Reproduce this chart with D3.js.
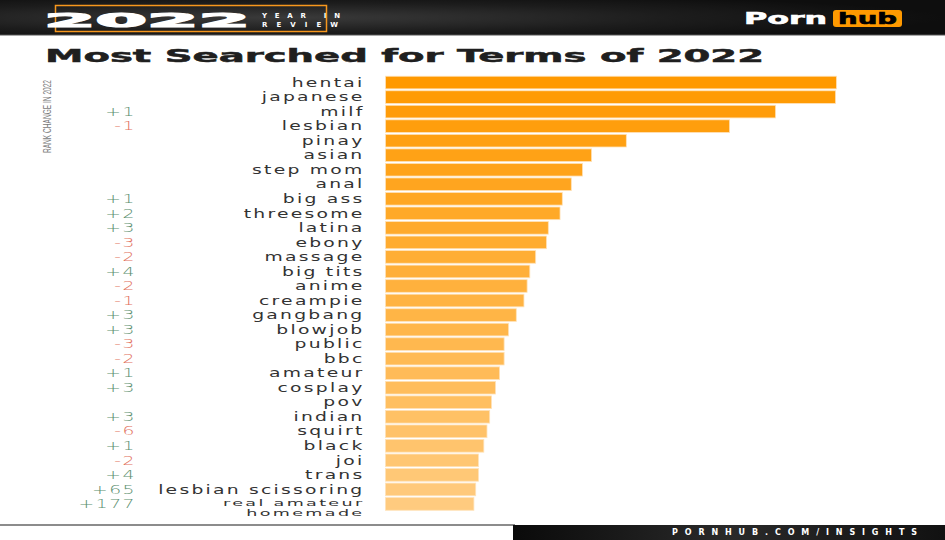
<!DOCTYPE html>
<html>
<head>
<meta charset="utf-8">
<script src="https://cdn.jsdelivr.net/npm/d3@7"></script>
<style>
  html, body { margin: 0; padding: 0; background: #fff; }
  svg { display: block; }
</style>
</head>
<body>
<script>
// ---- data ----
const terms = ["hentai","japanese","milf","lesbian","pinay","asian","step mom","anal","big ass","threesome",
  "latina","ebony","massage","big tits","anime","creampie","gangbang","blowjob","public","bbc",
  "amateur","cosplay","pov","indian","squirt","black","joi","trans","lesbian scissoring","real amateur\nhomemade"];
const popularity = [100, 99.8, 86.5, 76.3, 53.4, 45.7, 43.7, 41.2, 39.2, 38.7,
  36.1, 35.7, 33.3, 32.0, 31.4, 30.7, 29.0, 27.3, 26.3, 26.3,
  25.3, 24.4, 23.5, 23.1, 22.5, 21.8, 20.6, 20.6, 20.0, 19.6];
const rankChange = [null, null, 1, -1, null, null, null, null, 1, 2,
  3, -3, -2, 4, -2, -1, 3, 3, -3, -2,
  1, 3, null, 3, -6, 1, -2, 4, 65, 177];

const W = 945, H = 540;
const svg = d3.select("body").append("svg").attr("width", W).attr("height", H);
const defs = svg.append("defs");

// ---- header band ----
const hg = defs.append("radialGradient").attr("id","hdr").attr("cx","30%").attr("cy","50%").attr("r","70%");
hg.append("stop").attr("offset","0%").attr("stop-color","#3a3a3a");
hg.append("stop").attr("offset","60%").attr("stop-color","#1c1c1c");
hg.append("stop").attr("offset","100%").attr("stop-color","#0e0e0e");
svg.append("rect").attr("x",0).attr("y",0).attr("width",W).attr("height",35).attr("fill","url(#hdr)");
svg.append("line").attr("x1",0).attr("x2",W).attr("y1",35).attr("y2",35).attr("stroke","#555").attr("stroke-width",1);

// 2022 frame
svg.append("rect").attr("x",55.5).attr("y",5.5).attr("width",271).attr("height",26)
  .attr("fill","none").attr("stroke","#f7971d").attr("stroke-width",1.5);
svg.append("text").attr("x",44).attr("y",27)
  .attr("font-family","DejaVu Sans").attr("font-weight","bold").attr("font-size",20)
  .attr("textLength",206).attr("lengthAdjust","spacingAndGlyphs")
  .attr("fill","#fff").attr("stroke","#fff").attr("stroke-width",1.2).text("2022");
svg.append("text").attr("x",262).attr("y",17.5)
  .attr("font-family","DejaVu Sans").attr("font-weight","bold").attr("font-size",7)
  .attr("textLength",78).attr("lengthAdjust","spacing").attr("fill","#fff").text("YEAR IN");
svg.append("text").attr("x",262).attr("y",26.5)
  .attr("font-family","DejaVu Sans").attr("font-weight","bold").attr("font-size",7)
  .attr("textLength",76).attr("lengthAdjust","spacing").attr("fill","#fff").text("REVIEW");

// logo
svg.append("text").attr("x",744).attr("y",24)
  .attr("font-family","DejaVu Sans").attr("font-weight","bold").attr("font-size",16)
  .attr("textLength",83).attr("lengthAdjust","spacingAndGlyphs").attr("fill","#fff")
  .attr("stroke","#fff").attr("stroke-width",0.6).text("Porn");
svg.append("rect").attr("x",833).attr("y",10).attr("width",69).attr("height",17).attr("rx",3)
  .attr("fill","#ff9900");
svg.append("text").attr("x",838).attr("y",24)
  .attr("font-family","DejaVu Sans").attr("font-weight","bold").attr("font-size",16)
  .attr("textLength",59).attr("lengthAdjust","spacingAndGlyphs").attr("fill","#000")
  .attr("stroke","#000").attr("stroke-width",0.6).text("hub");

// ---- title ----
svg.append("text").attr("x",45).attr("y",61.5)
  .attr("font-family","DejaVu Sans").attr("font-weight","bold").attr("font-size",18)
  .attr("textLength",719).attr("lengthAdjust","spacingAndGlyphs")
  .attr("fill","#1f1f1f").attr("stroke","#1f1f1f").attr("stroke-width",0.5)
  .text("Most Searched for Terms of 2022");

// rotated axis caption
svg.append("text").attr("transform","translate(50.5,153) rotate(-90)")
  .attr("font-family","Liberation Sans Narrow, Liberation Sans").attr("font-size",10.5)
  .attr("textLength",73).attr("lengthAdjust","spacingAndGlyphs")
  .attr("fill","#7a7a7a").text("RANK CHANGE IN 2022");

// ---- scales ----
const y = d3.scaleBand().domain(terms).range([75.5, 511]).paddingInner(0.13).paddingOuter(0.05);
const x = d3.scaleLinear().domain([0, 100]).range([385.5, 836.5]);
const color = d3.scaleLinear().domain([0, terms.length - 1]).range(["#ff9900", "#ffcb7f"]).interpolate(d3.interpolateRgb);

const rows = terms.map((t, i) => ({term: t, value: popularity[i], change: rankChange[i], i}));

// bars
svg.append("g").selectAll("rect").data(rows).join("rect")
  .attr("x", x(0))
  .attr("y", d => y(d.term))
  .attr("width", d => x(d.value) - x(0))
  .attr("height", y.bandwidth())
  .attr("fill", d => color(d.i))
  .attr("stroke", "#ffe2b8").attr("stroke-width", 0.8);

// term labels
const lab = svg.append("g").selectAll("g").data(rows).join("g")
  .attr("transform", d => `translate(364.5, ${y(d.term) + y.bandwidth()/2 + 4.2})`);
lab.each(function(d) {
  const lines = d.term.split("\n");
  const g = d3.select(this);
  if (lines.length === 1) {
    g.append("text")
      .attr("transform", "scale(1.5,1)")
      .attr("text-anchor", "end")
      .attr("font-family", "DejaVu Sans").attr("font-size", 12.5)
      .attr("letter-spacing", 1.5)
      .attr("fill", "#333")
      .text(lines[0]);
  } else {
    const t = g.append("text")
      .attr("transform", "translate(0,-2.5) scale(1.95,1)")
      .attr("text-anchor", "end")
      .attr("font-family", "DejaVu Sans").attr("font-size", 9)
      .attr("letter-spacing", 1.2)
      .attr("fill", "#333");
    lines.forEach((ln, k) => {
      t.append("tspan").attr("x", 0).attr("dy", k === 0 ? 0 : 10.6).text(ln);
    });
  }
});

// rank change
svg.append("g").selectAll("text").data(rows.filter(d => d.change !== null)).join("text")
  .attr("transform", d => `translate(136, ${y(d.term) + y.bandwidth()/2 + 4.2}) scale(1.5,1)`)
  .attr("text-anchor", "end")
  .attr("font-family", "DejaVu Sans").attr("font-size", 12.5).attr("font-weight", 300)
  .attr("letter-spacing", 1)
  .attr("fill", d => d.change > 0 ? "#5c8f6f" : "#e2725e")
  .text(d => (d.change > 0 ? "+" : "-") + Math.abs(d.change));

// ---- footer ----
svg.append("line").attr("x1",0).attr("x2",515).attr("y1",525).attr("y2",525).attr("stroke","#666").attr("stroke-width",1.3);
const fg = defs.append("linearGradient").attr("id","ftr").attr("x1","0%").attr("x2","100%");
fg.append("stop").attr("offset","0%").attr("stop-color","#0a0a0a");
fg.append("stop").attr("offset","50%").attr("stop-color","#2a2a2a");
fg.append("stop").attr("offset","100%").attr("stop-color","#111");
svg.append("rect").attr("x",513).attr("y",525).attr("width",W-513).attr("height",15).attr("fill","url(#ftr)");
svg.append("text").attr("x",672).attr("y",535)
  .attr("font-family","DejaVu Sans").attr("font-weight","bold").attr("font-size",8)
  .attr("textLength",245).attr("lengthAdjust","spacing").attr("fill","#fff")
  .text("PORNHUB.COM/INSIGHTS");
</script>
</body>
</html>
